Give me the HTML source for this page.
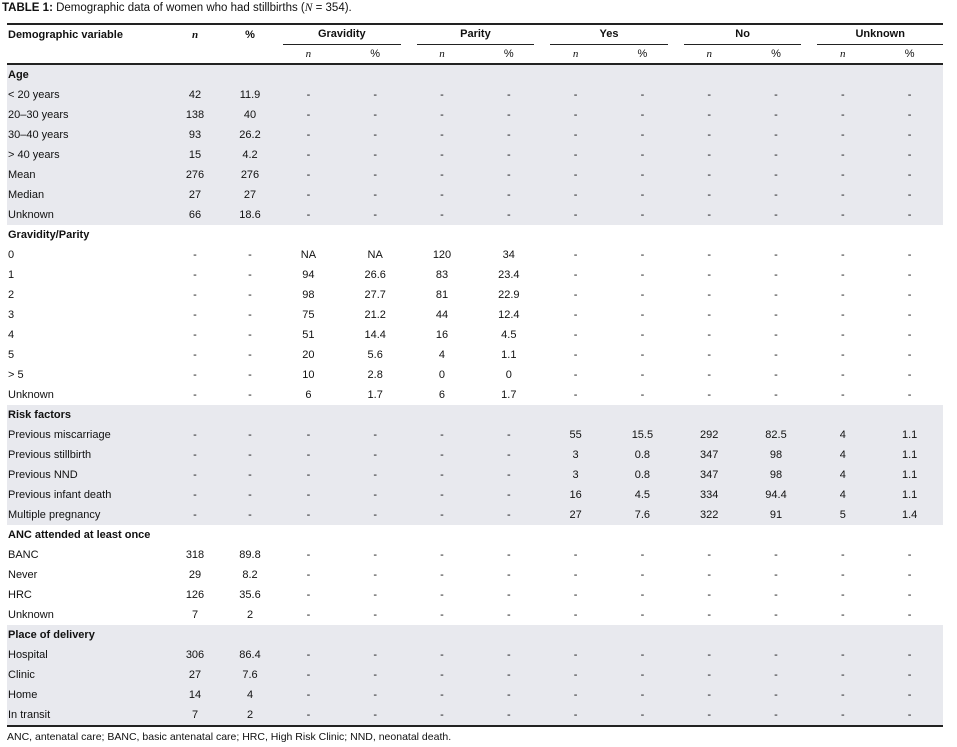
<!DOCTYPE html><html><head><style>
body{margin:0;background:#fff;font-family:"Liberation Sans",sans-serif;font-size:11px;color:#111}
.t{position:absolute;left:2px;top:2px;font-size:11.5px}
table{position:absolute;left:7px;top:23px;border-collapse:collapse;table-layout:fixed;width:936px}
td{height:20px;padding:0;text-align:center;white-space:nowrap;line-height:20px}
td:first-child{text-align:left;padding-left:1px}
.s td{background:#e8e9ee}
.h td{font-weight:bold;border-top:2px solid #222;height:20px}
.h2 td{border-bottom:2px solid #222;height:18px;line-height:18px}
.g span{display:block;margin:0 8px 0 8px;border-bottom:1.5px solid #222;line-height:19px}
.b td{font-weight:bold}
i{font-family:"Liberation Serif",serif}
.last td{border-bottom:2px solid #222;height:19px}
.f{position:absolute;left:7px;top:731px;font-size:10.5px}
</style></head><body>
<div class="t"><b>TABLE 1:</b> Demographic data of women who had stillbirths (<i>N</i> = 354).</div>
<table>
<colgroup><col style="width:158px"><col style="width:60px"><col style="width:50px"><col span="10" style="width:66.8px"></colgroup>
<tr class="h"><td>Demographic variable</td><td><i>n</i></td><td>%</td><td colspan="2" class="g"><span>Gravidity</span></td><td colspan="2" class="g"><span>Parity</span></td><td colspan="2" class="g"><span>Yes</span></td><td colspan="2" class="g"><span>No</span></td><td colspan="2" class="g"><span style="margin-right:0">Unknown</span></td></tr>
<tr class="h2"><td></td><td></td><td></td><td><i>n</i></td><td>%</td><td><i>n</i></td><td>%</td><td><i>n</i></td><td>%</td><td><i>n</i></td><td>%</td><td><i>n</i></td><td>%</td></tr>
<tr class="s b"><td>Age</td><td colspan="12"></td></tr>
<tr class="s"><td>&lt; 20 years</td><td>42</td><td>11.9</td><td>-</td><td>-</td><td>-</td><td>-</td><td>-</td><td>-</td><td>-</td><td>-</td><td>-</td><td>-</td></tr>
<tr class="s"><td>20–30 years</td><td>138</td><td>40</td><td>-</td><td>-</td><td>-</td><td>-</td><td>-</td><td>-</td><td>-</td><td>-</td><td>-</td><td>-</td></tr>
<tr class="s"><td>30–40 years</td><td>93</td><td>26.2</td><td>-</td><td>-</td><td>-</td><td>-</td><td>-</td><td>-</td><td>-</td><td>-</td><td>-</td><td>-</td></tr>
<tr class="s"><td>&gt; 40 years</td><td>15</td><td>4.2</td><td>-</td><td>-</td><td>-</td><td>-</td><td>-</td><td>-</td><td>-</td><td>-</td><td>-</td><td>-</td></tr>
<tr class="s"><td>Mean</td><td>276</td><td>276</td><td>-</td><td>-</td><td>-</td><td>-</td><td>-</td><td>-</td><td>-</td><td>-</td><td>-</td><td>-</td></tr>
<tr class="s"><td>Median</td><td>27</td><td>27</td><td>-</td><td>-</td><td>-</td><td>-</td><td>-</td><td>-</td><td>-</td><td>-</td><td>-</td><td>-</td></tr>
<tr class="s"><td>Unknown</td><td>66</td><td>18.6</td><td>-</td><td>-</td><td>-</td><td>-</td><td>-</td><td>-</td><td>-</td><td>-</td><td>-</td><td>-</td></tr>
<tr class="b"><td>Gravidity/Parity</td><td colspan="12"></td></tr>
<tr><td>0</td><td>-</td><td>-</td><td>NA</td><td>NA</td><td>120</td><td>34</td><td>-</td><td>-</td><td>-</td><td>-</td><td>-</td><td>-</td></tr>
<tr><td>1</td><td>-</td><td>-</td><td>94</td><td>26.6</td><td>83</td><td>23.4</td><td>-</td><td>-</td><td>-</td><td>-</td><td>-</td><td>-</td></tr>
<tr><td>2</td><td>-</td><td>-</td><td>98</td><td>27.7</td><td>81</td><td>22.9</td><td>-</td><td>-</td><td>-</td><td>-</td><td>-</td><td>-</td></tr>
<tr><td>3</td><td>-</td><td>-</td><td>75</td><td>21.2</td><td>44</td><td>12.4</td><td>-</td><td>-</td><td>-</td><td>-</td><td>-</td><td>-</td></tr>
<tr><td>4</td><td>-</td><td>-</td><td>51</td><td>14.4</td><td>16</td><td>4.5</td><td>-</td><td>-</td><td>-</td><td>-</td><td>-</td><td>-</td></tr>
<tr><td>5</td><td>-</td><td>-</td><td>20</td><td>5.6</td><td>4</td><td>1.1</td><td>-</td><td>-</td><td>-</td><td>-</td><td>-</td><td>-</td></tr>
<tr><td>&gt; 5</td><td>-</td><td>-</td><td>10</td><td>2.8</td><td>0</td><td>0</td><td>-</td><td>-</td><td>-</td><td>-</td><td>-</td><td>-</td></tr>
<tr><td>Unknown</td><td>-</td><td>-</td><td>6</td><td>1.7</td><td>6</td><td>1.7</td><td>-</td><td>-</td><td>-</td><td>-</td><td>-</td><td>-</td></tr>
<tr class="s b"><td>Risk factors</td><td colspan="12"></td></tr>
<tr class="s"><td>Previous miscarriage</td><td>-</td><td>-</td><td>-</td><td>-</td><td>-</td><td>-</td><td>55</td><td>15.5</td><td>292</td><td>82.5</td><td>4</td><td>1.1</td></tr>
<tr class="s"><td>Previous stillbirth</td><td>-</td><td>-</td><td>-</td><td>-</td><td>-</td><td>-</td><td>3</td><td>0.8</td><td>347</td><td>98</td><td>4</td><td>1.1</td></tr>
<tr class="s"><td>Previous NND</td><td>-</td><td>-</td><td>-</td><td>-</td><td>-</td><td>-</td><td>3</td><td>0.8</td><td>347</td><td>98</td><td>4</td><td>1.1</td></tr>
<tr class="s"><td>Previous infant death</td><td>-</td><td>-</td><td>-</td><td>-</td><td>-</td><td>-</td><td>16</td><td>4.5</td><td>334</td><td>94.4</td><td>4</td><td>1.1</td></tr>
<tr class="s"><td>Multiple pregnancy</td><td>-</td><td>-</td><td>-</td><td>-</td><td>-</td><td>-</td><td>27</td><td>7.6</td><td>322</td><td>91</td><td>5</td><td>1.4</td></tr>
<tr class="b"><td>ANC attended at least once</td><td colspan="12"></td></tr>
<tr><td>BANC</td><td>318</td><td>89.8</td><td>-</td><td>-</td><td>-</td><td>-</td><td>-</td><td>-</td><td>-</td><td>-</td><td>-</td><td>-</td></tr>
<tr><td>Never</td><td>29</td><td>8.2</td><td>-</td><td>-</td><td>-</td><td>-</td><td>-</td><td>-</td><td>-</td><td>-</td><td>-</td><td>-</td></tr>
<tr><td>HRC</td><td>126</td><td>35.6</td><td>-</td><td>-</td><td>-</td><td>-</td><td>-</td><td>-</td><td>-</td><td>-</td><td>-</td><td>-</td></tr>
<tr><td>Unknown</td><td>7</td><td>2</td><td>-</td><td>-</td><td>-</td><td>-</td><td>-</td><td>-</td><td>-</td><td>-</td><td>-</td><td>-</td></tr>
<tr class="s b"><td>Place of delivery</td><td colspan="12"></td></tr>
<tr class="s"><td>Hospital</td><td>306</td><td>86.4</td><td>-</td><td>-</td><td>-</td><td>-</td><td>-</td><td>-</td><td>-</td><td>-</td><td>-</td><td>-</td></tr>
<tr class="s"><td>Clinic</td><td>27</td><td>7.6</td><td>-</td><td>-</td><td>-</td><td>-</td><td>-</td><td>-</td><td>-</td><td>-</td><td>-</td><td>-</td></tr>
<tr class="s"><td>Home</td><td>14</td><td>4</td><td>-</td><td>-</td><td>-</td><td>-</td><td>-</td><td>-</td><td>-</td><td>-</td><td>-</td><td>-</td></tr>
<tr class="s last"><td>In transit</td><td>7</td><td>2</td><td>-</td><td>-</td><td>-</td><td>-</td><td>-</td><td>-</td><td>-</td><td>-</td><td>-</td><td>-</td></tr>
</table>
<div class="f">ANC, antenatal care; BANC, basic antenatal care; HRC, High Risk Clinic; NND, neonatal death.</div>
</body></html>
